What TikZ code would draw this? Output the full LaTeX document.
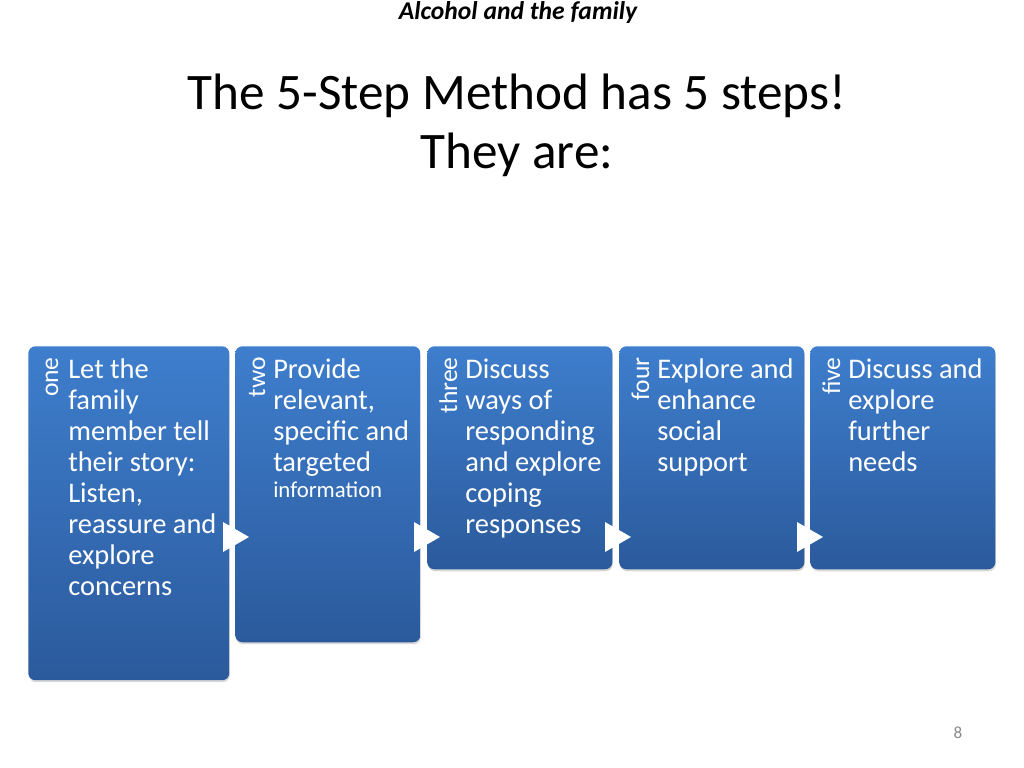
\documentclass[tikz,border=0pt]{standalone}
\usepackage{fontspec}
\setmainfont{Carlito}
\usetikzlibrary{shadows}
\definecolor{stepTop}{RGB}{62,126,205}
\definecolor{stepBot}{RGB}{43,90,156}
\definecolor{pageGray}{RGB}{137,137,137}
\tikzset{
  stepbox/.style={anchor=north west, rounded corners=5pt, top color=stepTop, bottom color=stepBot, draw=none, inner sep=0pt, minimum width=130.1pt, drop shadow={opacity=0.3, shadow xshift=0.4pt, shadow yshift=-1.4pt}},
  steptext/.style={anchor=base west, inner sep=0pt, text=white, text width=112pt, align=flush left, font=\fontsize{20}{21.8}\selectfont},
  steplabel/.style={anchor=base east, inner sep=0pt, rotate=90, text=white, font=\fontsize{18}{21}\selectfont},
  steparrow/.style={fill=white}
}
\begin{document}
\begin{tikzpicture}[x=0.703125pt, y=-0.703125pt]
\useasboundingbox[fill=white] (0,0) rectangle (1024,768);
\node[anchor=base, font=\fontsize{18}{21}\selectfont\bfseries\itshape] (head) at (518,20) {Alcohol and the family};
\node[anchor=base, text width=500pt, align=flush center, font=\fontsize{36}{41}\selectfont] (title) at (517,110) {The 5-Step Method has 5 steps!\\They are:};

\node[stepbox, minimum width=141.3pt, minimum height=234.8pt] (box1) at (28,346) {};
\node[stepbox, minimum height=208.1pt] (box2) at (235,346) {};
\node[stepbox, minimum height=156.8pt] (box3) at (427,346) {};
\node[stepbox, minimum height=156.8pt] (box4) at (619,346) {};
\node[stepbox, minimum height=156.8pt] (box5) at (810,346) {};

\node[steplabel] (lab1) at (58,357) {one};
\node[steplabel] (lab2) at (265,357) {two};
\node[steplabel] (lab3) at (457,357) {three};
\node[steplabel] (lab4) at (649,357) {four};
\node[steplabel] (lab5) at (840,357) {five};

\node[steptext] (txt1) at (68,378) {Let the\\family\\member tell\\their story:\\Listen,\\reassure and\\explore\\concerns};
\node[steptext] (txt2) at (273,378) {Provide\\relevant,\\specific and\\targeted\\[-3pt]{\fontsize{16}{19}\selectfont information}};
\node[steptext] (txt3) at (465,378) {Discuss\\ways of\\responding\\and explore\\coping\\responses};
\node[steptext] (txt4) at (657,378) {Explore and\\enhance\\social\\support};
\node[steptext] (txt5) at (848,378) {Discuss and\\explore\\further\\needs};

\coordinate (arr12) at (223,537);
\coordinate (arr23) at (414,537);
\coordinate (arr34) at (605,537);
\coordinate (arr45) at (797,537);
\fill[steparrow] (arr12) ++(0,-15) -- ++(26,15) -- ++(-26,15) -- cycle;
\fill[steparrow] (arr23) ++(0,-15) -- ++(26,15) -- ++(-26,15) -- cycle;
\fill[steparrow] (arr34) ++(0,-15) -- ++(26,15) -- ++(-26,15) -- cycle;
\fill[steparrow] (arr45) ++(0,-15) -- ++(26,15) -- ++(-26,15) -- cycle;

\node[text=pageGray, font=\fontsize{12}{14}\selectfont] (page) at (958,733) {8};
\end{tikzpicture}
\end{document}
